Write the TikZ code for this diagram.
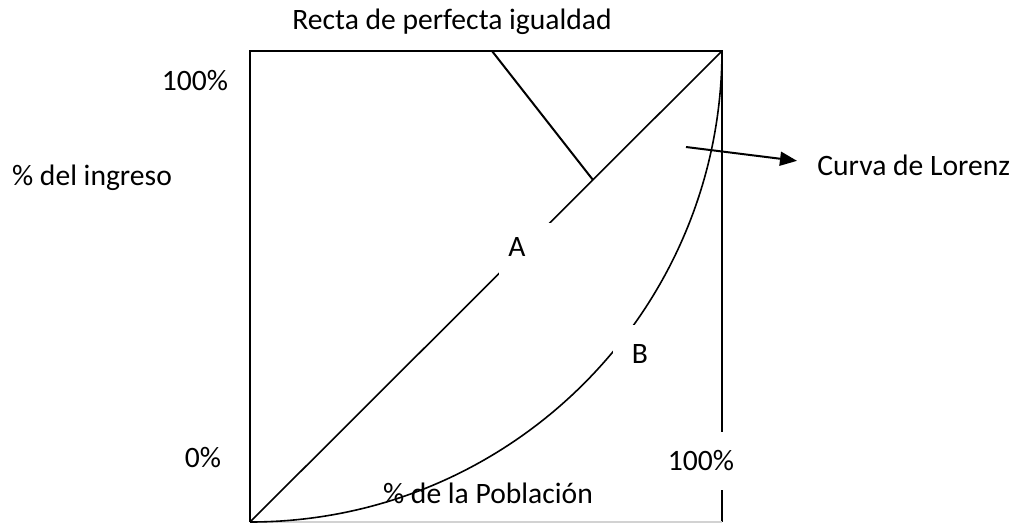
\documentclass[tikz,border=0pt]{standalone}
\usepackage{fontspec}
\setmainfont{Carlito}
\usetikzlibrary{arrows.meta}

\begin{document}
\begin{tikzpicture}[x=0.5pt, y=-0.5pt,
    txt/.style=
    {font=\fontsize{14.8}{18}\selectfont, anchor=base, inner sep=0pt},
    frame/.style=
    {line width=1pt}, thin line/.style=
    {line width=0.8pt},
    gap/.style=
    {fill=white}]
    \useasboundingbox (0,0) rectangle (1012,525);
    % corners of the square
    \coordinate (O) at (250,522);
    \coordinate (TL) at (250,51);
    \coordinate (TR) at (722,51);
    \coordinate (BR) at (722,522);
    \draw[frame] (O) -- (TL) -- (TR) -- (BR);
    \draw[gray!35, line width=1pt] (O) -- (BR);
    \draw[thin line] (O) -- (TR);
    \draw[thin line] (O) arc[start angle=90, end angle=0, radius=472];
    \coordinate (recta top) at (492,51);
    \coordinate (recta foot) at (593,180);
    \draw[frame] (recta top) -- (recta foot);
    % white boxes behind the labels
    \fill[gap] (499,223) rectangle (580,300);
    \fill[gap] (613,325) rectangle (700,400);
    \fill[gap] (665,432) rectangle (745,490);
    \node (recta) [txt] at (452,29) {Recta de perfecta igualdad};
    \node (top pct) [txt] at (195,90) {100\%};
    \node (ingreso) [txt] at (92,185) {\% del ingreso};
    \node (zero pct) [txt] at (203,467) {0\%};
    \node (right pct) [txt] at (701,470) {100\%};
    \node (poblacion) [txt] at (488,503) {\% de la Población};
    \node (A) [txt] at (517,256) {A};
    \node (B) [txt] at (640,363) {B};
    \node (lorenz) [txt, anchor=base west] at (817,175) {Curva de Lorenz};
    \coordinate (lorenz tail) at (686,147);
    \draw[-{Triangle[length=8.5pt,width=7pt]}, line width=1pt]
        (lorenz tail) -- ([xshift=-10pt, yshift=2pt]lorenz.west);
\end{tikzpicture}
\end{document}
